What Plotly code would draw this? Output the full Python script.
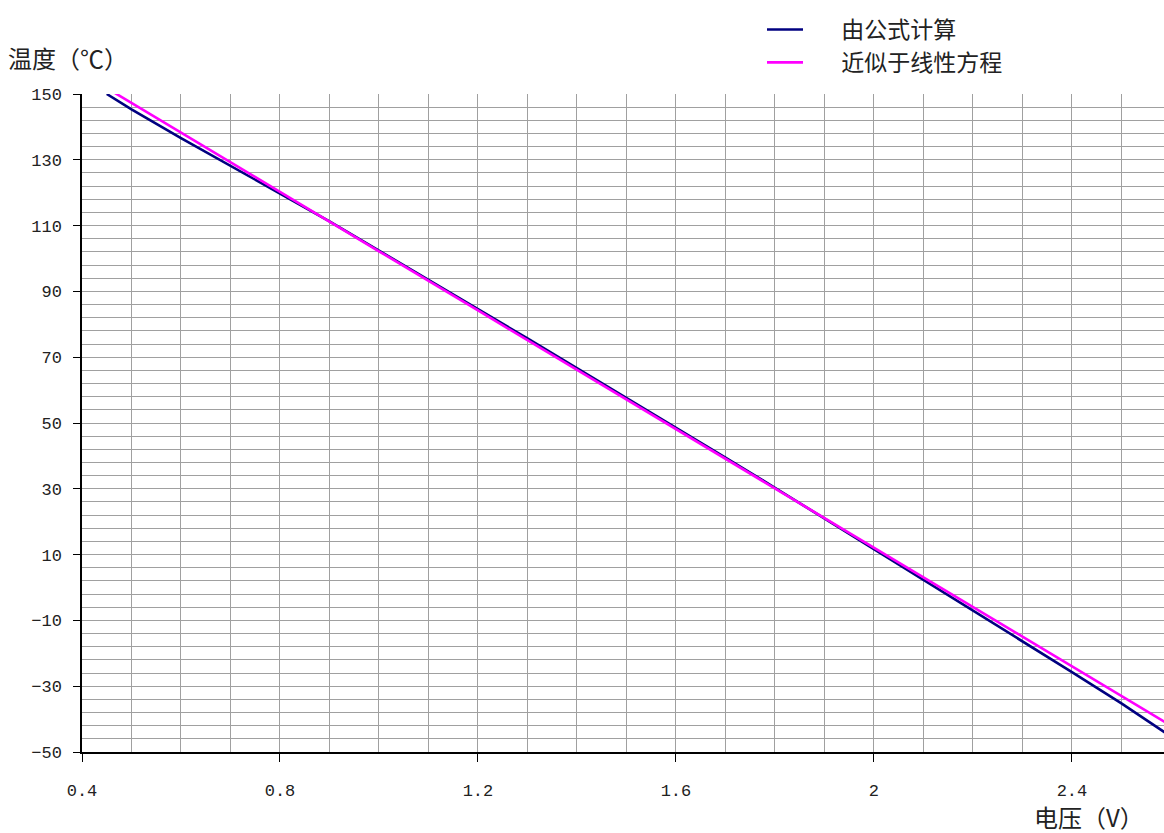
import plotly.graph_objects as go

# Data
voltage_formula = [0.45, 0.5, 0.6, 0.7, 0.8, 0.9, 1.0, 1.1, 1.2, 1.3, 1.4, 1.5,
                   1.6, 1.7, 1.8, 1.9, 2.0, 2.1, 2.2, 2.3, 2.4, 2.5, 2.6]
temp_formula = [150.0, 145.3, 136.6, 128.1, 119.8, 111.3, 102.4, 93.6, 84.6, 75.7,
                66.7, 57.7, 48.6, 39.5, 30.3, 21.0, 11.7, 2.3, -7.0, -16.4,
                -25.7, -35.2, -45.3]

voltage_linear = [0.4, 0.6, 0.8, 1.0, 1.2, 1.4, 1.6, 1.8, 2.0, 2.2, 2.4, 2.6]
temp_linear = [156.3, 138.2, 120.2, 102.2, 84.2, 66.2, 48.1, 30.1, 12.1, -5.9,
               -23.9, -42.0]

series_names = ["由公式计算", "近似于线性方程"]
series_colors = ["#000080", "#ff00ff"]

x_title = "电压（V）"
y_title = "温度（℃）"

x_range = [0.4, 2.586]
y_range = [-50, 150]

CJK = "Noto Sans CJK SC, sans-serif"
MONO = "Liberation Mono, monospace"
GRID = "#a0a0a0"
LEGEND_GAP = "\u3000\u00a0\u00a0"

fig = go.Figure()
fig.add_trace(go.Scatter(x=voltage_formula, y=temp_formula, mode="lines",
                         name=LEGEND_GAP + series_names[0],
                         line=dict(color=series_colors[0], width=2.6)))
fig.add_trace(go.Scatter(x=voltage_linear, y=temp_linear, mode="lines",
                         name=LEGEND_GAP + series_names[1],
                         line=dict(color=series_colors[1], width=2.6)))

fig.update_layout(
    width=1164, height=833,
    margin=dict(l=82, r=0, t=94, b=81, autoexpand=False),
    paper_bgcolor="white", plot_bgcolor="white",
    showlegend=True,
    legend=dict(xref="container", yref="container", x=762/1164, y=1-8/833,
                xanchor="left", yanchor="top", itemwidth=36,
                bgcolor="rgba(0,0,0,0)",
                font=dict(family=CJK, size=23, color="#222"),
                tracegroupgap=0),
    xaxis=dict(range=x_range, tick0=0.4, dtick=0.4, tickformat=".1~f",
               showgrid=True, gridcolor=GRID, gridwidth=1,
               minor=dict(dtick=0.1, tick0=0.4, showgrid=True,
                          gridcolor=GRID, gridwidth=1, ticks=""),
               showline=True, linecolor="black", linewidth=1.5,
               ticks="outside", ticklen=8, tickcolor="black", tickwidth=1,
               ticklabelstandoff=14,
               tickfont=dict(family=MONO, size=17, color="#222"),
               zeroline=False),
    yaxis=dict(range=y_range, tick0=-50, dtick=20,
               showgrid=True, gridcolor=GRID, gridwidth=1,
               minor=dict(dtick=4, tick0=-50, showgrid=True,
                          gridcolor=GRID, gridwidth=1, ticks=""),
               showline=True, linecolor="black", linewidth=1.5,
               ticks="outside", ticklen=7, tickcolor="black", tickwidth=1,
               ticklabelstandoff=8,
               tickfont=dict(family=MONO, size=17, color="#222"),
               zeroline=False),
    xaxis2=dict(range=x_range, tick0=0.4, dtick=0.4, overlaying="x",
                anchor="y", side="bottom", ticks="inside", ticklen=6,
                tickcolor="black", showticklabels=False, showgrid=False,
                showline=False, zeroline=False),
    yaxis2=dict(range=y_range, tick0=-50, dtick=20, overlaying="y",
                anchor="x", side="left", ticks="inside", ticklen=6,
                tickcolor="black", showticklabels=False, showgrid=False,
                showline=False, zeroline=False),
    annotations=[
        dict(text=y_title, xref="paper", yref="paper",
             x=(6-82)/1082, y=1+(94-57)/658, xanchor="left", yanchor="middle",
             showarrow=False, font=dict(family=CJK, size=24, color="#222")),
        dict(text=x_title, xref="paper", yref="paper",
             x=(1146-82)/1082, y=-(816-752)/658, xanchor="right", yanchor="middle",
             showarrow=False, font=dict(family=CJK, size=24, color="#222")),
    ],
)

fig.write_html("out.html",
               config={"displayModeBar": False},
               post_script="document.body.style.margin='0';"
                           "document.body.style.overflow='hidden';")
